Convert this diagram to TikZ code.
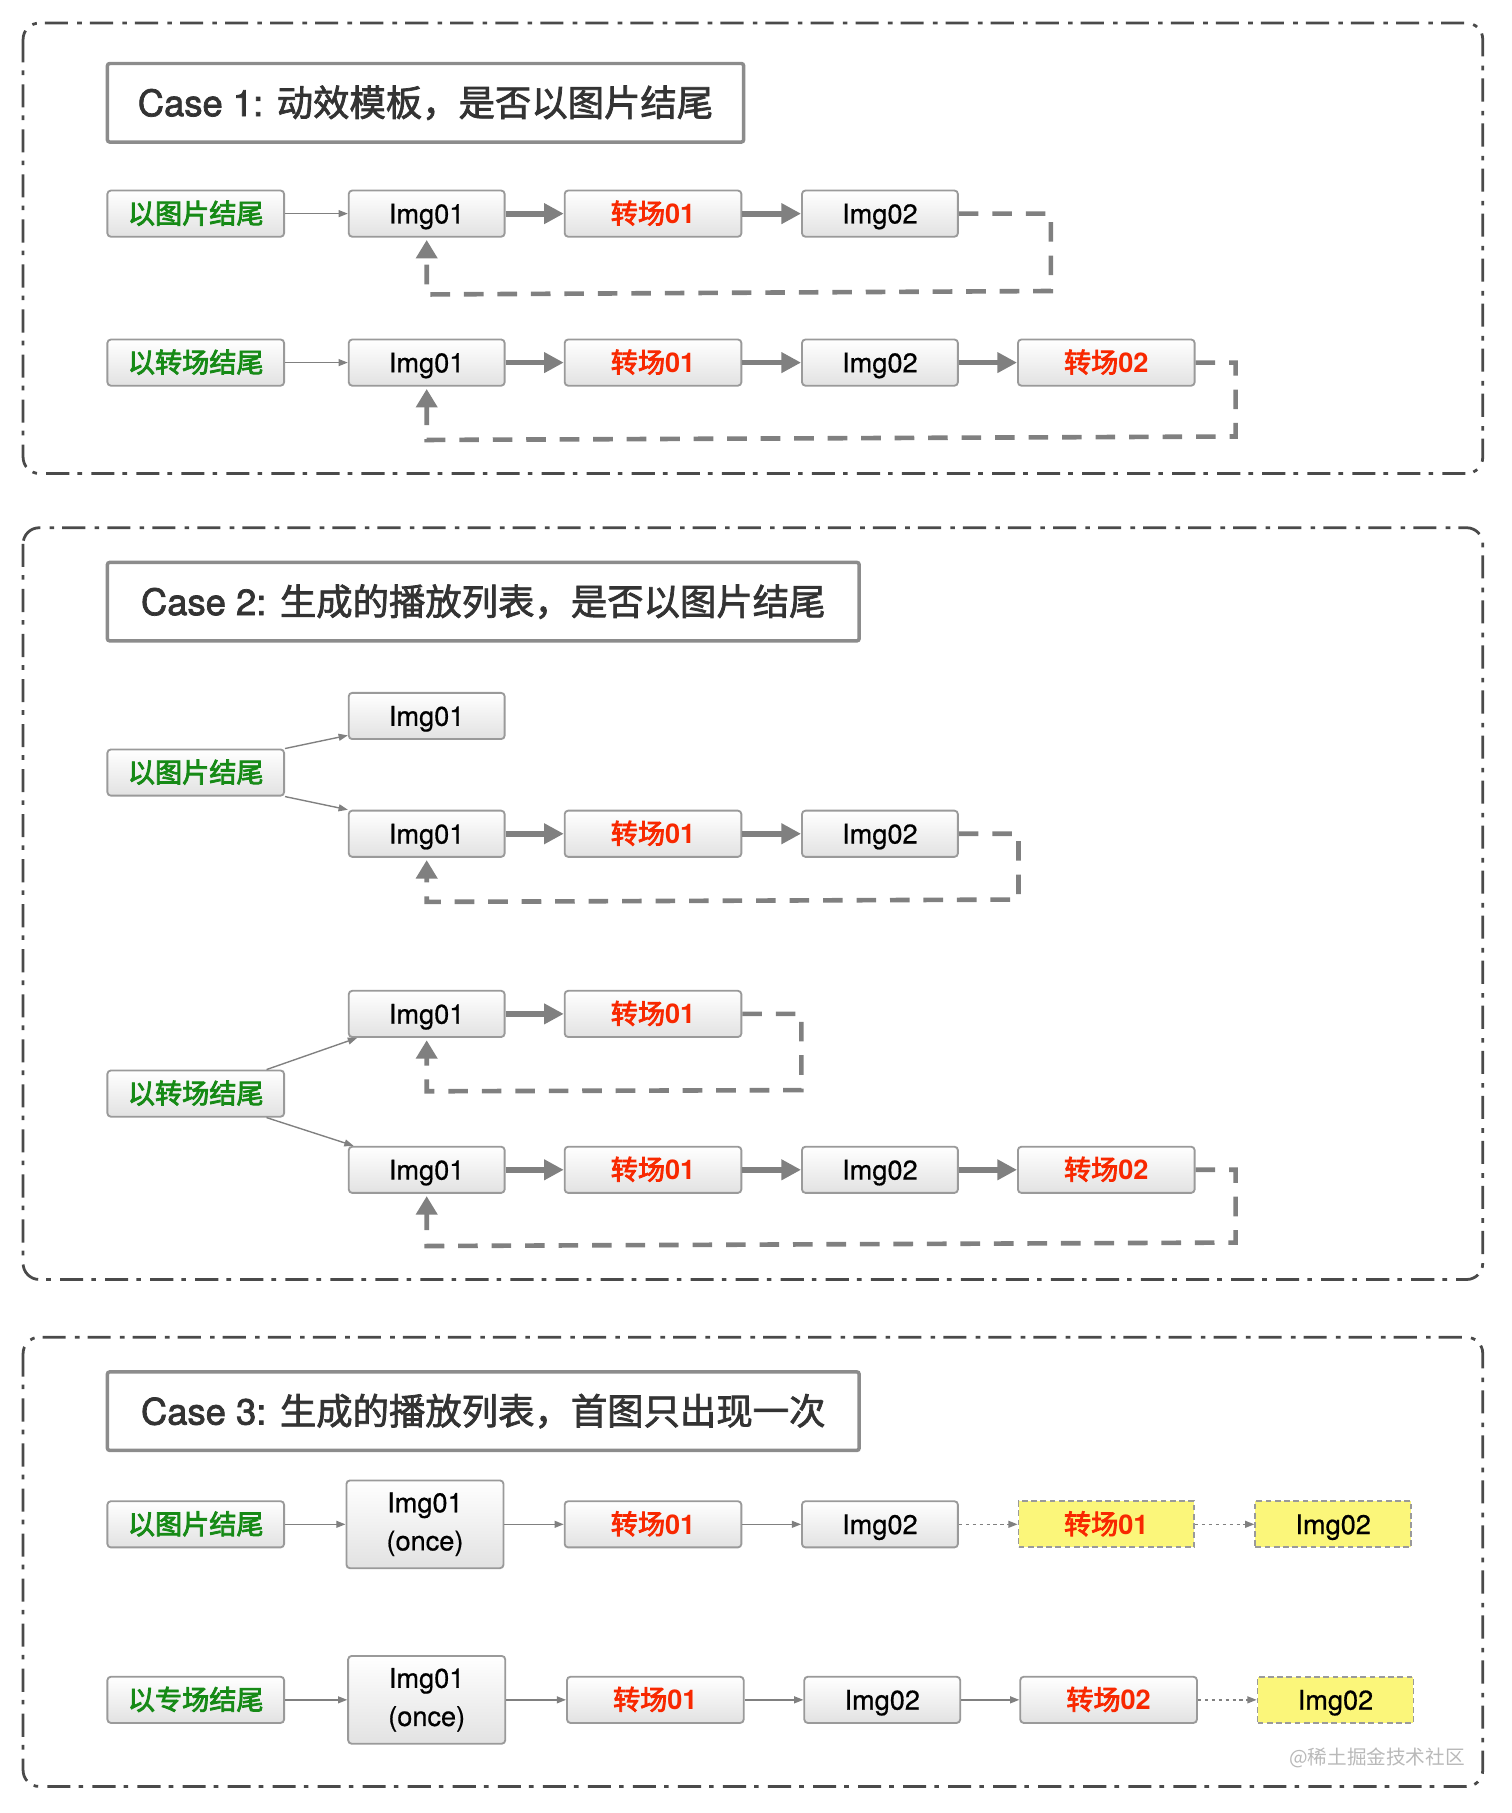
\documentclass[tikz,border=0pt]{standalone}
\usepackage{fontspec}
\setmainfont{TeX Gyre Heros}
\newfontfamily\cjk{Noto Sans CJK SC}
\newfontfamily\cjkmid{Noto Sans CJK SC}[FakeBold=2]
\newfontfamily\cjksemi{Noto Sans CJK SC}[FakeBold=3]
\newfontfamily\latmid{TeX Gyre Heros}[FakeBold=2]
\newfontfamily\latbox{TeX Gyre Heros}[FakeBold=0.6]
\usetikzlibrary{arrows.meta}
\definecolor{frameGray}{HTML}{4A4A4A}
\definecolor{titleLine}{HTML}{8C8C8C}
\definecolor{titleText}{HTML}{333333}
\definecolor{boxLine}{HTML}{9A9A9A}
\definecolor{boxShade}{HTML}{E2E2E2}
\definecolor{arrowGray}{HTML}{808080}
\definecolor{endGreen}{HTML}{168A16}
\definecolor{transRed}{HTML}{F82800}
\definecolor{hiYellow}{HTML}{FBF67A}
\newcommand{\boxFont}{\fontsize{23.5}{33}\selectfont}
\newcommand{\zhm}[1]{{\cjkmid\mdseries #1}}
\newcommand{\zhs}[1]{{\cjksemi\mdseries #1}}
\tikzset{
  caseframe/.style={draw=frameGray, line width=2.4pt, rounded corners=14pt,
    dash pattern=on 20pt off 7pt on 4pt off 8pt},
  titlebox/.style={draw=titleLine, line width=3pt, rounded corners=2pt, fill=white,
    minimum width=#1, minimum height=68pt, inner sep=0pt, text=titleText,
    font=\fontsize{31.5}{36}\selectfont\latmid},
  basebox/.style={draw=boxLine, line width=1.6pt, rounded corners=3pt,
    top color=white, bottom color=boxShade, inner sep=0pt, font=\boxFont\latbox},
  stepbox/.style={basebox, minimum width=#1, minimum height=40pt,
    text height=18pt, text depth=1pt},
  stepbox/.default=135pt,
  endlabel/.style={stepbox=153pt, text=endGreen, font=\boxFont\cjksemi},
  transbox/.style={stepbox=153pt, text=transRed, font=\boxFont\normalfont\bfseries},
  oncebox/.style={basebox, minimum width=136pt, minimum height=76pt, align=center},
  newbox/.style={draw=boxLine, line width=1.6pt, dash pattern=on 5pt off 3pt,
    fill=hiYellow, minimum width=#1, minimum height=40pt, inner sep=0pt,
    text height=18pt, text depth=1pt, font=\boxFont\latbox},
  bigarrow/.style={draw=arrowGray, line width=5pt, -{Triangle[length=17pt,width=17pt]}},
  thinarrow/.style={draw=arrowGray, line width=1.2pt, -{Triangle[length=8pt,width=6pt]}},
  dotarrow/.style={thinarrow, dash pattern=on 3pt off 3pt},
  looparrow/.style={draw=arrowGray, line width=4pt, dash pattern=on 17pt off 12pt,
    -{Triangle[length=16pt,width=18pt]}, shorten >=2pt}
}

\begin{document}
\begin{tikzpicture}[x=1pt, y=-1pt]
   \useasboundingbox (0,0) rectangle (1309,1570);

   % Case 1
   \draw[caseframe] (20,20) rectangle (1284,410);
   \node[titlebox=551pt] (title1) at (368.5,89) {Case 1: \zhm{动效模板，是否以图片结尾}};

   \node[endlabel] (r1lab) at (169.5,185) {以图片结尾};
   \node[stepbox] (r1img1) at (369.5,185) {Img01};
   \node[transbox] (r1tr1) at (565.5,185) {\zhs{转场}01};
   \node[stepbox] (r1img2) at (762,185) {Img02};
   \draw[thinarrow] (r1lab) -- (r1img1);
   \draw[bigarrow] (r1img1) -- (r1tr1);
   \draw[bigarrow] (r1tr1) -- (r1img2);
   \draw[looparrow] (r1img2.east) -- (910,185) -- (910,252) -- (369.5,255) -- (r1img1.south);

   \node[endlabel] (r2lab) at (169.5,314) {以转场结尾};
   \node[stepbox] (r2img1) at (369.5,314) {Img01};
   \node[transbox] (r2tr1) at (565.5,314) {\zhs{转场}01};
   \node[stepbox] (r2img2) at (762,314) {Img02};
   \node[transbox] (r2tr2) at (958,314) {\zhs{转场}02};
   \draw[thinarrow] (r2lab) -- (r2img1);
   \foreach \a/\b in {r2img1/r2tr1, r2tr1/r2img2, r2img2/r2tr2}
      \draw[bigarrow] (\a) -- (\b);
   \draw[looparrow] (r2tr2.east) -- (1070,314) -- (1070,378) -- (369.5,381) -- (r2img1.south);

   % Case 2
   \draw[caseframe] (20,457) rectangle (1284,1108);
   \node[titlebox=651pt] (title2) at (418.5,521) {Case 2: \zhm{生成的播放列表，是否以图片结尾}};

   \node[endlabel] (r3lab) at (169.5,669) {以图片结尾};
   \node[stepbox] (r3top) at (369.5,620) {Img01};
   \node[stepbox] (r3img1) at (369.5,722) {Img01};
   \node[transbox] (r3tr1) at (565.5,722) {\zhs{转场}01};
   \node[stepbox] (r3img2) at (762,722) {Img02};
   \draw[thinarrow] (r3lab.north east) -- ([yshift=4pt]r3top.south west);
   \draw[thinarrow] (r3lab.south east) -- (r3img1.north west);
   \draw[bigarrow] (r3img1) -- (r3tr1);
   \draw[bigarrow] (r3tr1) -- (r3img2);
   \draw[looparrow] (r3img2.east) -- (882,722) -- (882,779) -- (369.5,781) -- (r3img1.south);

   \node[endlabel] (r4lab) at (169.5,947) {以转场结尾};
   \node[stepbox] (r4img1) at (369.5,878) {Img01};
   \node[transbox] (r4tr1) at (565.5,878) {\zhs{转场}01};
   \draw[bigarrow] (r4img1) -- (r4tr1);
   \draw[looparrow] (r4tr1.east) -- (694,878) -- (694,944) -- (369.5,945) -- (r4img1.south);

   \node[stepbox] (r5img1) at (369.5,1013) {Img01};
   \node[transbox] (r5tr1) at (565.5,1013) {\zhs{转场}01};
   \node[stepbox] (r5img2) at (762,1013) {Img02};
   \node[transbox] (r5tr2) at (958,1013) {\zhs{转场}02};
   \draw[thinarrow] ([xshift=-16pt]r4lab.north east) -- ([xshift=8pt]r4img1.south west);
   \draw[thinarrow] ([xshift=-16pt]r4lab.south east) -- ([xshift=5pt]r5img1.north west);
   \foreach \a/\b in {r5img1/r5tr1, r5tr1/r5img2, r5img2/r5tr2}
      \draw[bigarrow] (\a) -- (\b);
   \draw[looparrow] (r5tr2.east) -- (1070,1013) -- (1070,1076) -- (369.5,1079) -- (r5img1.south);

   % Case 3
   \draw[caseframe] (20,1158) rectangle (1284,1547);
   \node[titlebox=651pt] (title3) at (418.5,1222) {Case 3: \zhm{生成的播放列表，首图只出现一次}};

   \node[endlabel] (r6lab) at (169.5,1320) {以图片结尾};
   \node[oncebox] (r6once) at (368,1320) {Img01\\(once)};
   \node[transbox] (r6tr1) at (565.5,1320) {\zhs{转场}01};
   \node[stepbox] (r6img2) at (762,1320) {Img02};
   \node[newbox=152pt, text=transRed, font=\boxFont\normalfont\bfseries] (r6new1) at (958,1320) {\zhs{转场}01};
   \node[newbox=135pt] (r6new2) at (1154.5,1320) {Img02};
   \foreach \a/\b in {r6lab/r6once, r6once/r6tr1, r6tr1/r6img2}
      \draw[thinarrow] (\a) -- (\b);
   \draw[dotarrow] (r6img2) -- (r6new1);
   \draw[dotarrow] (r6new1) -- (r6new2);

   \node[endlabel] (r7lab) at (169.5,1472) {以专场结尾};
   \node[oncebox] (r7once) at (369.5,1472) {Img01\\(once)};
   \node[transbox] (r7tr1) at (567.5,1472) {\zhs{转场}01};
   \node[stepbox] (r7img2) at (764,1472) {Img02};
   \node[transbox] (r7tr2) at (960,1472) {\zhs{转场}02};
   \node[newbox=135pt] (r7new) at (1156.5,1472) {Img02};
   \foreach \a/\b in {r7lab/r7once, r7once/r7tr1, r7tr1/r7img2, r7img2/r7tr2}
      \draw[thinarrow] (\a) -- (\b);
   \draw[dotarrow] (r7tr2) -- (r7new);

   \node[text=gray!55, font=\fontsize{17}{20}\selectfont\cjk, anchor=east] (mark) at (1272,1522) {@稀土掘金技术社区};
\end{tikzpicture}
\end{document}
